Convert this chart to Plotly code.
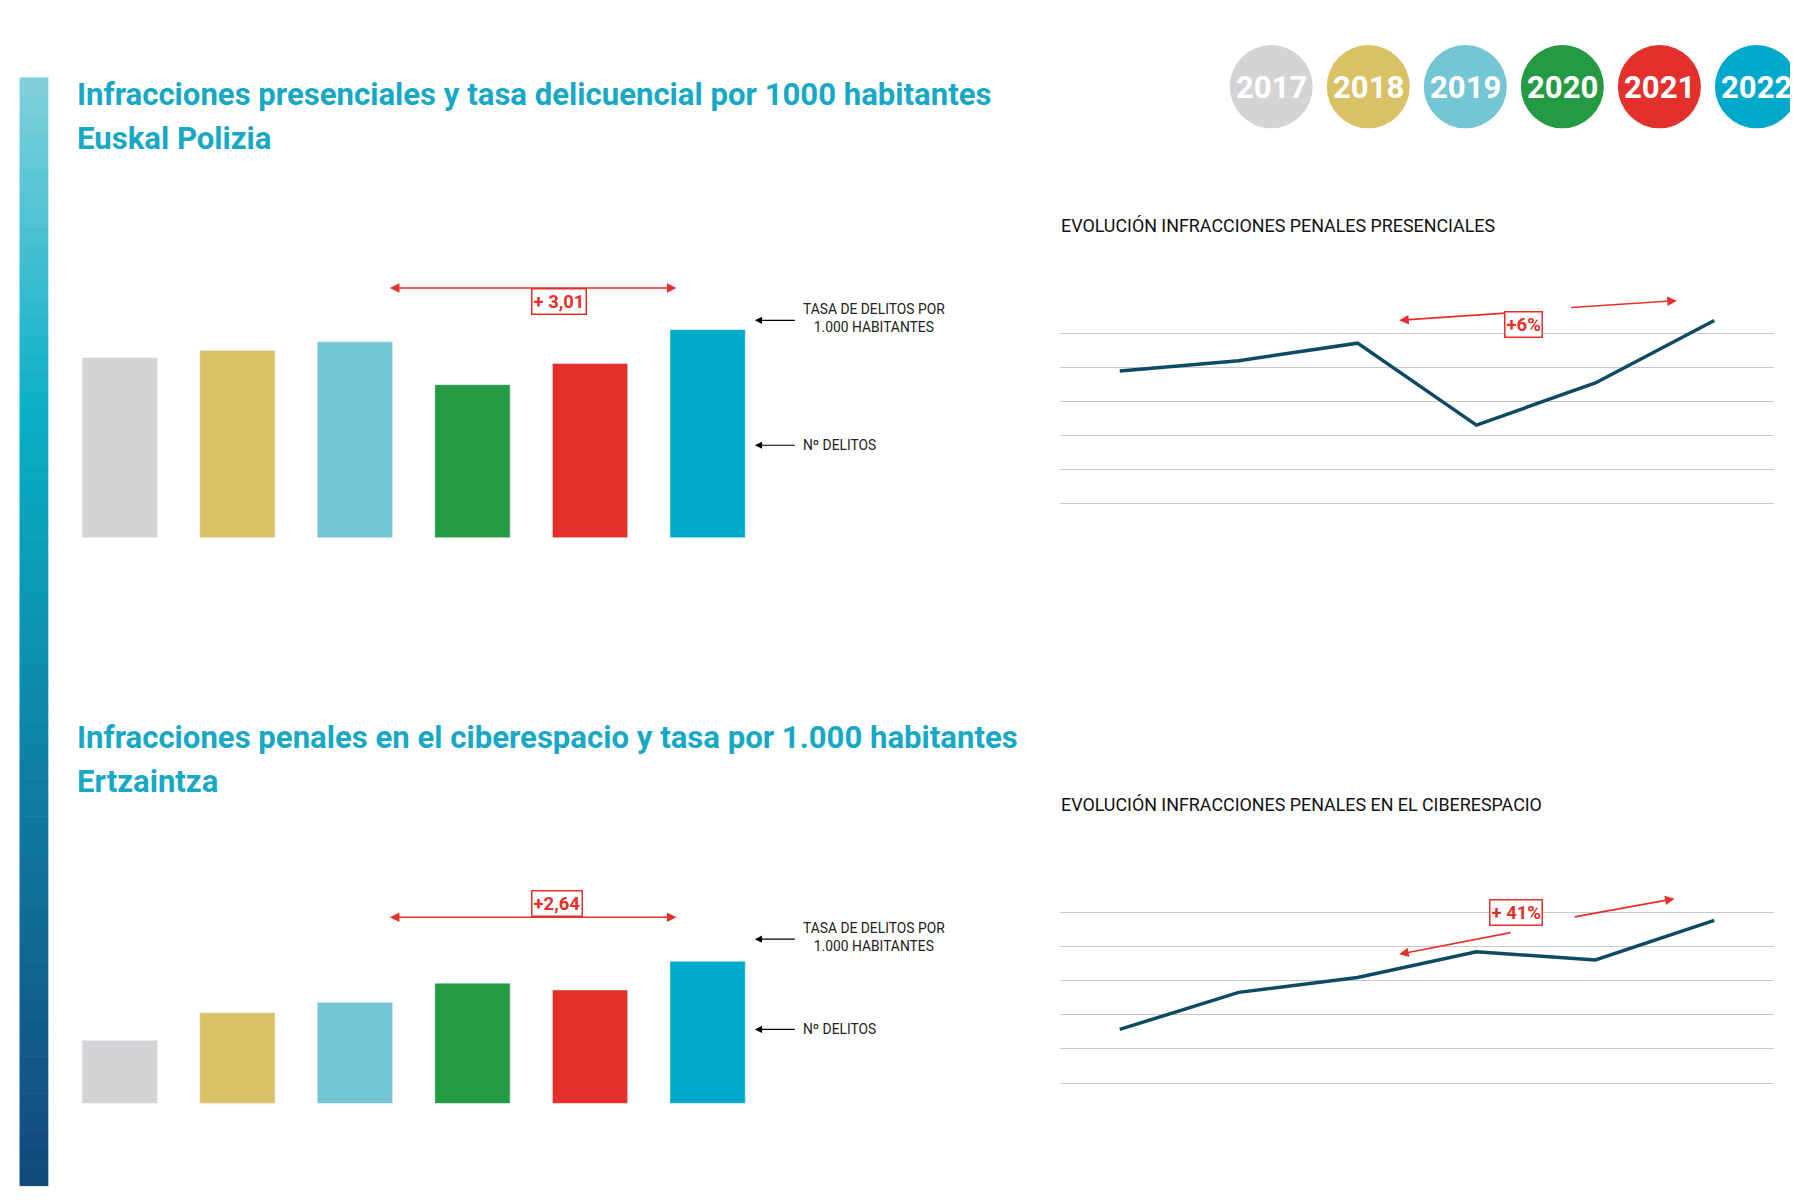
import plotly.graph_objects as go

years = ["2017", "2018", "2019", "2020", "2021", "2022"]
colors = ["#d4d4d6", "#d8c265", "#74c6d4", "#239a43", "#e3302a", "#00a9cc"]

rate_pres = [44.57, 46.39, 48.54, 37.88, 43.13, 51.55]
rate_pres_lbl = ["44,57", "46,39", "48,54", "37,88", "43,13", "51,55"]
count_pres = [98968, 102015, 107174, 83106, 95491, 113842]
count_pres_lbl = ["98.968", "102.015", "107.174", "83.106", "95.491", "113.842"]

rate_cyb = [4.04, 5.81, 6.48, 7.71, 7.27, 9.12]
rate_cyb_lbl = ["4,04", "5,81", "6,48", "7,71", "7,27", "9,12"]
count_cyb = [8989, 12785, 14311, 16935, 16103, 20147]
count_cyb_lbl = ["8.989", "12.785", "14.311", "16.935", "16.103", "20.147"]

W, H = 1798, 1203
S = W / 1560.0
def px(x): return x / 1560.0
def py(y): return 1 - y / 1040.0
def fs(s): return s * S

FONT = "Roboto"
CYAN = "#17a8c6"
RED = "#e3302a"
LINE = "#0d4a63"

fig = go.Figure()
fig.add_trace(go.Bar(x=years, y=rate_pres, marker_color=colors, width=0.64, xaxis="x", yaxis="y", showlegend=False))
fig.add_trace(go.Bar(x=years, y=rate_cyb, marker_color=colors, width=0.64, xaxis="x2", yaxis="y2", showlegend=False))
fig.add_trace(go.Scatter(x=years, y=count_pres, mode="lines", line=dict(color=LINE, width=3.5), xaxis="x3", yaxis="y3", showlegend=False))
fig.add_trace(go.Scatter(x=years, y=count_cyb, mode="lines", line=dict(color=LINE, width=3.5), xaxis="x4", yaxis="y4", showlegend=False))

noax = dict(showgrid=False, zeroline=False, showticklabels=False, showline=False, fixedrange=True)
catx = dict(type="category", range=[-0.5, 5.5], **noax)
lay = dict(
    width=W, height=H, margin=dict(l=0, r=0, t=0, b=0),
    paper_bgcolor="white", plot_bgcolor="white", font=dict(family=FONT),
    xaxis=dict(domain=[px(46), px(658)], anchor="y", **catx),
    yaxis=dict(domain=[py(458), py(278)], range=[0, 51.55], anchor="x", **noax),
    xaxis2=dict(domain=[px(46), px(658)], anchor="y2", **catx),
    yaxis2=dict(domain=[py(947), py(824)], range=[0, 9.12], anchor="x2", **noax),
    xaxis3=dict(domain=[px(913), px(1532)], anchor="y3", **catx),
    yaxis3=dict(domain=[py(458), py(252)], range=[50000, 120000], dtick=10000, anchor="x3",
                showgrid=True, gridcolor="#c8c8c8", gridwidth=1, zeroline=False, showticklabels=False, fixedrange=True),
    xaxis4=dict(domain=[px(913), px(1532)], anchor="y4", **catx),
    yaxis4=dict(domain=[py(959), py(752)], range=[0, 24500], dtick=3500, anchor="x4",
                showgrid=True, gridcolor="#c8c8c8", gridwidth=1, zeroline=False, showticklabels=False, fixedrange=True),
)
fig.update_layout(**lay)

ann = []
shapes = []

n = 60
c1 = (0x7f, 0xd0, 0xdc); c2 = (0x0a, 0xb0, 0xc8); c3 = (0x13, 0x4a, 0x7c)
for i in range(n):
    t = i / (n - 1)
    if t < 0.3:
        u = t / 0.3; a, b = c1, c2
    else:
        u = (t - 0.3) / 0.7; a, b = c2, c3
    col = "rgb(%d,%d,%d)" % tuple(int(a[k] + (b[k] - a[k]) * u) for k in range(3))
    y0 = 60 + (1018 - 60) * i / n
    y1 = 60 + (1018 - 60) * (i + 1) / n + 0.5
    shapes.append(dict(type="rect", xref="paper", yref="paper", x0=px(10), x1=px(35), y0=py(y1), y1=py(y0),
                       fillcolor=col, line=dict(width=0), layer="below"))

def txt(x, y, t, size, color="black", bold=False, xa="left", ya="middle", **kw):
    if bold:
        t = "<b>" + t + "</b>"
    ann.append(dict(x=px(x), y=py(y), xref="paper", yref="paper", text=t, showarrow=False,
                    font=dict(size=fs(size), color=color, family=FONT), xanchor=xa, yanchor=ya, **kw))

txt(58, 75, "Infracciones presenciales y tasa delicuencial por 1000 habitantes", 27, CYAN, True)
txt(58, 113, "Euskal Polizia", 27, CYAN, True)
txt(58, 631, "Infracciones penales en el ciberespacio y tasa por 1.000 habitantes", 27, CYAN, True)
txt(58, 669, "Ertzaintza", 27, CYAN, True)
txt(912, 188, "EVOLUCIÓN INFRACCIONES PENALES PRESENCIALES", 15.5, "#111")
txt(912, 689, "EVOLUCIÓN INFRACCIONES PENALES EN EL CIBERESPACIO", 15.5, "#111")

for i, (yr, c) in enumerate(zip(years, colors)):
    cx = 1096 + i * 84.2
    r = 36
    shapes.append(dict(type="circle", xref="paper", yref="paper", x0=px(cx - r), x1=px(cx + r),
                       y0=py(68 + r), y1=py(68 - r), fillcolor=c, line=dict(width=0)))
    txt(cx, 69, yr, 27, "white", True, xa="center")

for xa_, ya_, rates, rl, cl, midy in [("x", "y", rate_pres, rate_pres_lbl, count_pres_lbl, 20.9),
                                      ("x2", "y2", rate_cyb, rate_cyb_lbl, count_cyb_lbl, 2.9)]:
    for yr, r, a, b in zip(years, rates, rl, cl):
        ann.append(dict(x=yr, y=r, xref=xa_, yref=ya_, text="<b>" + a + "</b>", showarrow=False, yanchor="bottom",
                        yshift=4, font=dict(size=fs(17), color="black", family=FONT)))
        ann.append(dict(x=yr, y=midy, xref=xa_, yref=ya_, text="<b>" + b + "</b>", showarrow=False,
                        font=dict(size=fs(17), color="white", family=FONT)))
        ann.append(dict(x=yr, y=0, xref=xa_, yref=ya_, text="<b>" + yr + "</b>", showarrow=False, yanchor="top",
                        yshift=-12, font=dict(size=fs(17), color="black", family=FONT)))

offs1 = [-18, -18, -18, -26, -26, -22]
offs2 = [-20, -20, -18, 14, 22, -26]
for xa_, ya_, vals, lbls, offs in [("x3", "y3", count_pres, count_pres_lbl, offs1),
                                   ("x4", "y4", count_cyb, count_cyb_lbl, offs2)]:
    rng = lay["yaxis3" if ya_ == "y3" else "yaxis4"]["range"][0]
    for i, (yr, v, l, o) in enumerate(zip(years, vals, lbls, offs)):
        ann.append(dict(x=yr, y=v, xref=xa_, yref=ya_, text=l, showarrow=False, yshift=-o * S,
                        xshift=(12 * S if i == 5 else 0),
                        font=dict(size=fs(14.5), color="#333", family=FONT)))
        ann.append(dict(x=yr, y=rng, xref=xa_, yref=ya_, text="<b>" + yr + "</b>", showarrow=False, yanchor="top",
                        yshift=-14, font=dict(size=fs(17), color="black", family=FONT)))

def arrow(x0, y0, x1, y1, color, side="end", w=1.6):
    ann.append(dict(x=px(x1), y=py(y1), ax=(x0 - x1) * S, ay=(y0 - y1) * S, xref="paper", yref="paper",
                    axref="pixel", ayref="pixel",
                    text="", showarrow=True, arrowhead=2, arrowsize=1.2, arrowwidth=w, arrowcolor=color,
                    arrowside=side, standoff=0, startstandoff=0))

def badge(x, y, t):
    ann.append(dict(x=px(x), y=py(y), xref="paper", yref="paper", text="<b>" + t + "</b>", showarrow=False,
                    font=dict(size=fs(16), color=RED, family=FONT), bgcolor="white", bordercolor=RED,
                    borderwidth=1.5, borderpad=1))

arrow(330, 242, 580, 242, RED, "end+start")
badge(454, 242, "+ 3,01")
arrow(330, 786, 580, 786, RED, "end+start")
badge(454, 786, "+2,64")
arrow(1310, 263, 1207, 270, RED)
arrow(1355, 259, 1448, 253, RED)
badge(1332, 262, "+6%")
arrow(1305, 799, 1207, 818, RED)
arrow(1358, 786, 1446, 770, RED)
badge(1332, 794, "+ 41%")

arrow(684, 270, 648, 270, "black", w=1.2)
txt(688, 268, "TASA DE DELITOS POR<br>1.000 HABITANTES", 12, "#222")
arrow(684, 378, 648, 378, "black", w=1.2)
txt(688, 378, "Nº DELITOS", 12, "#222")
arrow(684, 805, 648, 805, "black", w=1.2)
txt(688, 803, "TASA DE DELITOS POR<br>1.000 HABITANTES", 12, "#222")
arrow(684, 883, 648, 883, "black", w=1.2)
txt(688, 883, "Nº DELITOS", 12, "#222")

fig.update_layout(annotations=ann, shapes=shapes)
fig.write_html("out.html")
